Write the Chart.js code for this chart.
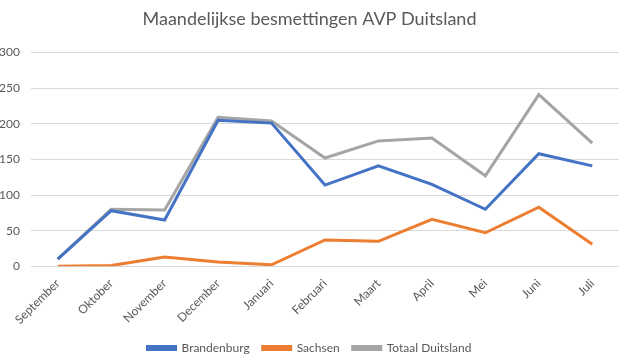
<!DOCTYPE html>
<html>
<head>
<meta charset="utf-8">
<script src="https://cdn.jsdelivr.net/npm/chart.js@4/dist/chart.umd.min.js"></script>
<style>
  body { margin: 0; background: #fff; }
  #wrap { width: 625px; height: 364px; position: relative; }
</style>
</head>
<body>
<div id="wrap"><canvas id="myChart"></canvas></div>
<script>
// categories (months)
var months = ["September", "Oktober", "November", "December", "Januari", "Februari",
  "Maart", "April", "Mei", "Juni", "Juli"];

// series values
var brandenburg = [10, 78, 65, 205, 201, 114, 141, 115, 80, 158, 141];
var sachsen = [0, 1, 13, 6, 2, 37, 35, 66, 47, 83, 31];
var totaal = [10, 80, 79, 209, 204, 152, 176, 180, 127, 241, 173];

var font = "Lato, 'Open Sans', sans-serif";
var textColor = "#595959";

var ctx = document.getElementById("myChart").getContext("2d");
var chart = new Chart(ctx, {
  type: "line",
  data: {
    labels: months,
    datasets: [
      {
        label: "Brandenburg",
        data: brandenburg,
        borderColor: "#4472C4",
        backgroundColor: "#4472C4"
      },
      {
        label: "Sachsen",
        data: sachsen,
        borderColor: "#ED7D31",
        backgroundColor: "#ED7D31"
      },
      {
        label: "Totaal Duitsland",
        data: totaal,
        borderColor: "#A5A5A5",
        backgroundColor: "#A5A5A5"
      }
    ]
  },
  options: {
    responsive: true,
    maintainAspectRatio: false,
    animation: false,
    layout: { padding: { left: 0, right: 6, top: 4, bottom: 0 } },
    elements: {
      line: { borderWidth: 3, tension: 0 },
      point: { radius: 0 }
    },
    plugins: {
      title: {
        display: true,
        text: "Maandelijkse besmettingen AVP Duitsland",
        color: textColor,
        font: { family: font, size: 18, weight: "normal" },
        padding: { top: 4, bottom: 23 }
      },
      legend: {
        position: "bottom",
        labels: {
          boxWidth: 28,
          boxHeight: 3,
          color: textColor,
          font: { family: font, size: 12 },
          padding: 13
        }
      },
      tooltip: { enabled: false }
    },
    scales: {
      x: {
        offset: true,
        grid: { display: false },
        border: { display: false },
        // let the rotated "September" label hang a bit further left
        afterFit: function (scale) {
          scale.paddingLeft = Math.min(scale.paddingLeft, 20);
        },
        ticks: {
          color: textColor,
          font: { family: font, size: 12 },
          minRotation: 45,
          maxRotation: 45,
          padding: 2
        }
      },
      y: {
        min: 0,
        max: 300,
        border: { display: false },
        grid: { color: "#D9D9D9", drawTicks: false },
        afterFit: function (scale) {
          scale.width = 31;
        },
        ticks: {
          stepSize: 50,
          color: textColor,
          font: { family: font, size: 12 },
          padding: 11
        }
      }
    }
  }
});
</script>
</body>
</html>
